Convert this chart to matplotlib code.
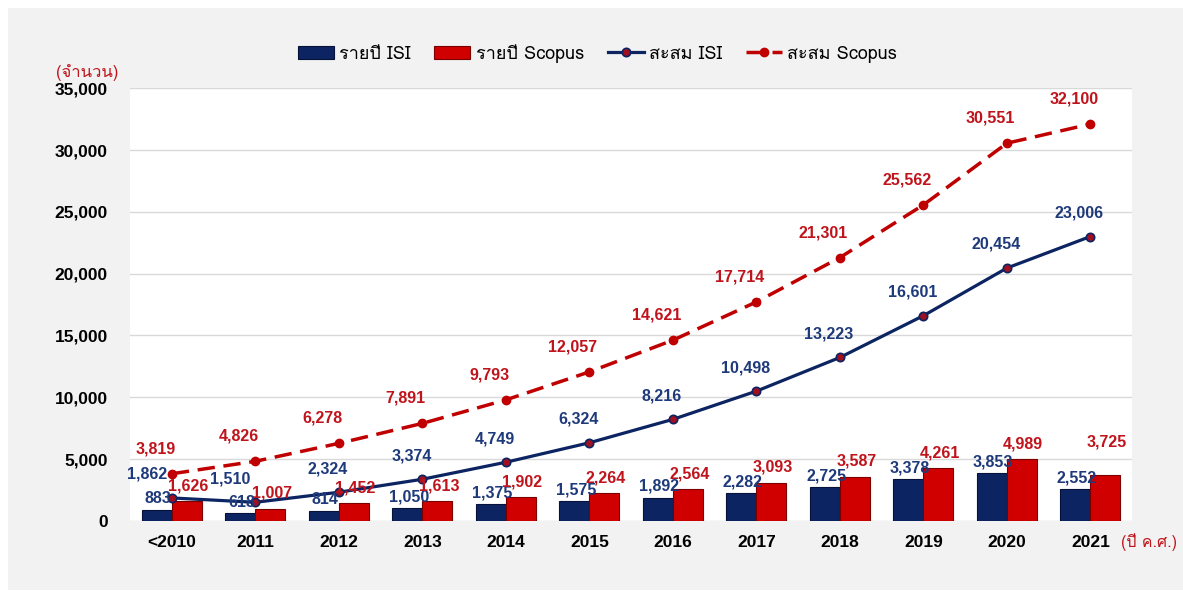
import numpy as np
import matplotlib
matplotlib.use("Agg")
import matplotlib.pyplot as plt
from matplotlib import font_manager, ft2font
from matplotlib.patches import Rectangle

years = ['<2010', '2011', '2012', '2013', '2014', '2015', '2016', '2017', '2018', '2019', '2020', '2021']
isi_year = [883, 618, 814, 1050, 1375, 1575, 1892, 2282, 2725, 3378, 3853, 2552]
scopus_year = [1626, 1007, 1452, 1613, 1902, 2264, 2564, 3093, 3587, 4261, 4989, 3725]
isi_cum = [1862, 1510, 2324, 3374, 4749, 6324, 8216, 10498, 13223, 16601, 20454, 23006]
scopus_cum = [3819, 4826, 6278, 7891, 9793, 12057, 14621, 17714, 21301, 25562, 30551, 32100]

navy = '#0c2461'
red = '#c00000'
lab_navy = '#1f3a7a'
lab_red = '#c0141c'


# find a font that can draw Thai
def thai_font():
    for f in font_manager.fontManager.ttflist:
        try:
            if ft2font.FT2Font(f.fname).get_char_index(0x0E23):
                return f.name
        except Exception:
            pass
    return None

tf = thai_font()
thai_fam = [tf, 'DejaVu Sans'] if tf else ['DejaVu Sans']
num_fam = ['Liberation Sans', 'DejaVu Sans']

fig = plt.figure(figsize=(11.83, 5.92), dpi=100, facecolor='white')
fig.patches.append(Rectangle((8 / 1183, 2 / 592), 1175 / 1183, 582 / 592,
                             transform=fig.transFigure, facecolor='#f2f2f2',
                             edgecolor='none', zorder=-5))
ax = fig.add_axes([0.110, 0.120, 0.847, 0.731])
ax.set_facecolor('white')

x = np.arange(len(years))
w = 0.36
b1 = ax.bar(x - w / 2, isi_year, w, color=navy, edgecolor='#06123a', linewidth=0.8,
            label='รายปี ISI', zorder=3)
b2 = ax.bar(x + w / 2, scopus_year, w, color='#d00000', edgecolor='#7a0000', linewidth=0.8,
            label='รายปี Scopus', zorder=3)
l1, = ax.plot(x, isi_cum, '-', color=navy, lw=2.3, marker='o', ms=6, mfc='#a01020',
              mec=navy, mew=1.2, label='สะสม ISI', zorder=4)
l2, = ax.plot(x, scopus_cum, '--', color=red, lw=2.5, dashes=(5, 2.5), marker='o', ms=6,
              mfc=red, mec=red, label='สะสม Scopus', zorder=4)

lab = dict(fontsize=11.5, fontweight='bold', family=num_fam, ha='center', va='center',
           textcoords='offset points', zorder=6)
for i in range(len(years)):
    ax.annotate(f'{isi_year[i]:,}', (x[i] - w / 2, isi_year[i]), xytext=(1, 8),
                color=lab_navy, **lab)
    ax.annotate(f'{scopus_year[i]:,}', (x[i] + w / 2, scopus_year[i]),
                xytext=(1, 24 if i == 11 else 11), color=lab_red, **lab)
    ax.annotate(f'{isi_cum[i]:,}', (x[i], isi_cum[i]),
                xytext=(-18 if i < 2 else -8, 17), color=lab_navy, **lab)
    ax.annotate(f'{scopus_cum[i]:,}', (x[i], scopus_cum[i]),
                xytext=(-12, 18), color=lab_red, **lab)

ax.set_xlim(-0.5, 11.5)
ax.set_ylim(0, 35000)
ax.set_yticks(np.arange(0, 35001, 5000))
ax.set_yticklabels([f'{v:,}' for v in range(0, 35001, 5000)])
ax.set_xticks(x)
ax.set_xticklabels(years)
for t in ax.get_xticklabels() + ax.get_yticklabels():
    t.set_fontsize(12.5)
    t.set_fontweight('bold')
    t.set_family(num_fam)
ax.tick_params(length=0, pad=10)
ax.tick_params(axis='y', pad=16)
ax.grid(axis='y', color='#d9d9d9', lw=1, zorder=0)
ax.set_axisbelow(True)
for s in ax.spines.values():
    s.set_visible(False)

fig.text(0.047, 0.878, '(จำนวน)', color=lab_red, fontsize=12, family=thai_fam,
         ha='left', va='center')
fig.text(0.995, 0.085, '(ปี ค.ศ.)', color=lab_red, fontsize=11.5, family=thai_fam,
         ha='right', va='center')

fig.legend([b1, b2, l1, l2], ['รายปี ISI', 'รายปี Scopus', 'สะสม ISI', 'สะสม Scopus'],
           loc='center', bbox_to_anchor=(0.505, 0.91), ncol=4, frameon=False,
           prop={'family': thai_fam, 'size': 13}, handlelength=2.0, handletextpad=0.3,
           columnspacing=1.3)

fig.savefig('out.png', dpi=100, facecolor=fig.get_facecolor())
